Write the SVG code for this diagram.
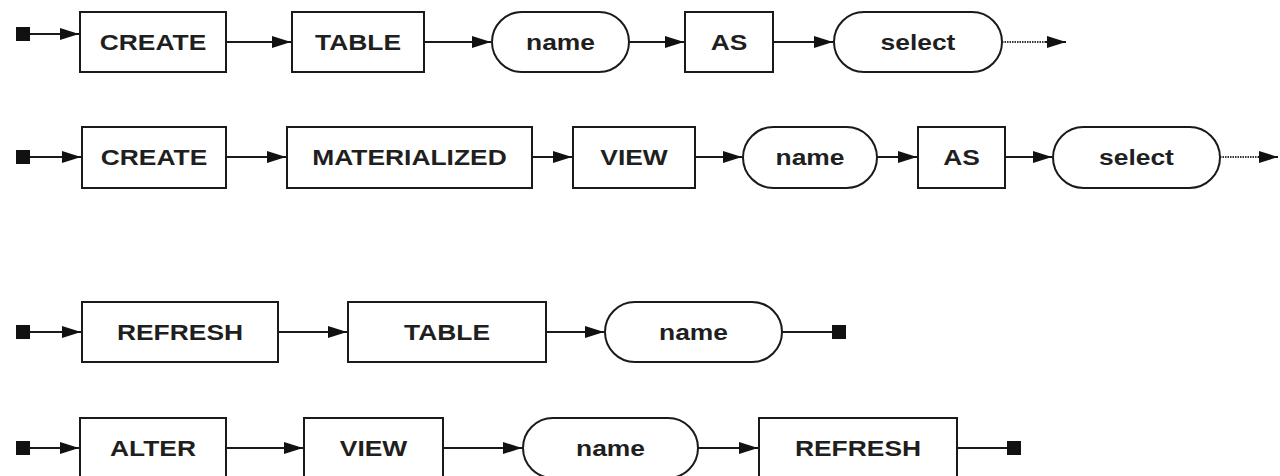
<svg xmlns="http://www.w3.org/2000/svg" width="1280" height="476" viewBox="0 0 1280 476">
  <style>
    .box { fill: #ffffff; stroke: #1a1a1a; stroke-width: 2; }
    .term { fill: #ffffff; stroke: #1a1a1a; stroke-width: 2; }
    .lbl { font-family: "Liberation Sans", Arial, sans-serif; font-weight: bold; font-size: 22px; fill: #1f1f1f; text-anchor: middle; }
    .wire { fill: none; stroke: #1a1a1a; stroke-width: 2; }
    .dots { fill: none; stroke: #333333; stroke-width: 1.8; stroke-dasharray: 1.5 1; }
    .stop { fill: #111111; }
  </style>
  <defs>
    <marker id="head" markerUnits="userSpaceOnUse" markerWidth="20" markerHeight="14" refX="19" refY="7" orient="auto">
      <path d="M0,1 L19,7 L0,13 Z" fill="#111111"/>
    </marker>
  </defs>

  <!-- connectors and start/end terminals -->
  <g id="connectors">
    <!-- CREATE TABLE ... AS select -->
    <rect class="stop" x="16" y="27" width="14" height="14"/>
    <path class="wire" d="M30,34 H79" marker-end="url(#head)"/>
    <path class="wire" d="M226,42 H291" marker-end="url(#head)"/>
    <path class="wire" d="M424,42 H491" marker-end="url(#head)"/>
    <path class="wire" d="M629,42 H684" marker-end="url(#head)"/>
    <path class="wire" d="M773,42 H833" marker-end="url(#head)"/>
    <path class="dots" d="M1002,42 H1047"/>
    <path class="wire" d="M1045,42 H1066" marker-end="url(#head)"/>

    <!-- CREATE MATERIALIZED VIEW ... AS select -->
    <rect class="stop" x="16" y="150" width="14" height="14"/>
    <path class="wire" d="M30,157 H81" marker-end="url(#head)"/>
    <path class="wire" d="M226,157 H286" marker-end="url(#head)"/>
    <path class="wire" d="M532,157 H572" marker-end="url(#head)"/>
    <path class="wire" d="M695,157 H742" marker-end="url(#head)"/>
    <path class="wire" d="M877,157 H917" marker-end="url(#head)"/>
    <path class="wire" d="M1005,157 H1052" marker-end="url(#head)"/>
    <path class="dots" d="M1220,157 H1260"/>
    <path class="wire" d="M1258,157 H1278" marker-end="url(#head)"/>

    <!-- REFRESH TABLE name -->
    <rect class="stop" x="16" y="325" width="14" height="14"/>
    <path class="wire" d="M30,332 H81" marker-end="url(#head)"/>
    <path class="wire" d="M278,332 H347" marker-end="url(#head)"/>
    <path class="wire" d="M546,332 H604" marker-end="url(#head)"/>
    <path class="wire" d="M782,332 H833"/>
    <rect class="stop" x="832" y="325" width="14" height="14"/>

    <!-- ALTER VIEW name REFRESH -->
    <rect class="stop" x="16" y="441" width="14" height="14"/>
    <path class="wire" d="M30,448 H79" marker-end="url(#head)"/>
    <path class="wire" d="M226,448 H303" marker-end="url(#head)"/>
    <path class="wire" d="M443,448 H522" marker-end="url(#head)"/>
    <path class="wire" d="M698,448 H758" marker-end="url(#head)"/>
    <path class="wire" d="M957,448 H1008"/>
    <rect class="stop" x="1007" y="441" width="14" height="14"/>
  </g>

  <!-- row 1 -->
  <g id="r1-create">
    <rect class="box" x="80" y="12" width="146" height="60"/>
    <text class="lbl" transform="translate(153,50) scale(1.2,1)">CREATE</text>
  </g>
  <g id="r1-table">
    <rect class="box" x="292" y="12" width="132" height="60"/>
    <text class="lbl" transform="translate(358,50) scale(1.2,1)">TABLE</text>
  </g>
  <g id="r1-name">
    <rect class="term" x="492" y="12" width="137" height="60" rx="30" ry="30"/>
    <text class="lbl" transform="translate(560.5,50) scale(1.2,1)">name</text>
  </g>
  <g id="r1-as">
    <rect class="box" x="685" y="12" width="88" height="60"/>
    <text class="lbl" transform="translate(729,50) scale(1.2,1)">AS</text>
  </g>
  <g id="r1-select">
    <rect class="term" x="834" y="12" width="168" height="60" rx="30" ry="30"/>
    <text class="lbl" transform="translate(918,50) scale(1.2,1)">select</text>
  </g>

  <!-- row 2 -->
  <g id="r2-create">
    <rect class="box" x="82" y="127" width="144" height="61"/>
    <text class="lbl" transform="translate(154,165) scale(1.2,1)">CREATE</text>
  </g>
  <g id="r2-materialized">
    <rect class="box" x="287" y="127" width="245" height="61"/>
    <text class="lbl" transform="translate(409.5,165) scale(1.2,1)">MATERIALIZED</text>
  </g>
  <g id="r2-view">
    <rect class="box" x="573" y="127" width="122" height="61"/>
    <text class="lbl" transform="translate(634,165) scale(1.2,1)">VIEW</text>
  </g>
  <g id="r2-name">
    <rect class="term" x="743" y="127" width="134" height="61" rx="30.5" ry="30.5"/>
    <text class="lbl" transform="translate(810,165) scale(1.2,1)">name</text>
  </g>
  <g id="r2-as">
    <rect class="box" x="918" y="127" width="87" height="61"/>
    <text class="lbl" transform="translate(961.5,165) scale(1.2,1)">AS</text>
  </g>
  <g id="r2-select">
    <rect class="term" x="1053" y="127" width="167" height="61" rx="30.5" ry="30.5"/>
    <text class="lbl" transform="translate(1136.5,165) scale(1.2,1)">select</text>
  </g>

  <!-- row 3 -->
  <g id="r3-refresh">
    <rect class="box" x="82" y="302" width="196" height="60"/>
    <text class="lbl" transform="translate(180,340) scale(1.2,1)">REFRESH</text>
  </g>
  <g id="r3-table">
    <rect class="box" x="348" y="302" width="198" height="60"/>
    <text class="lbl" transform="translate(447,340) scale(1.2,1)">TABLE</text>
  </g>
  <g id="r3-name">
    <rect class="term" x="605" y="302" width="177" height="60" rx="30" ry="30"/>
    <text class="lbl" transform="translate(693.5,340) scale(1.2,1)">name</text>
  </g>

  <!-- row 4 -->
  <g id="r4-alter">
    <rect class="box" x="80" y="418" width="146" height="60"/>
    <text class="lbl" transform="translate(153,456) scale(1.2,1)">ALTER</text>
  </g>
  <g id="r4-view">
    <rect class="box" x="304" y="418" width="139" height="60"/>
    <text class="lbl" transform="translate(373.5,456) scale(1.2,1)">VIEW</text>
  </g>
  <g id="r4-name">
    <rect class="term" x="523" y="418" width="175" height="60" rx="30" ry="30"/>
    <text class="lbl" transform="translate(610.5,456) scale(1.2,1)">name</text>
  </g>
  <g id="r4-refresh">
    <rect class="box" x="759" y="418" width="198" height="60"/>
    <text class="lbl" transform="translate(858,456) scale(1.2,1)">REFRESH</text>
  </g>
</svg>
